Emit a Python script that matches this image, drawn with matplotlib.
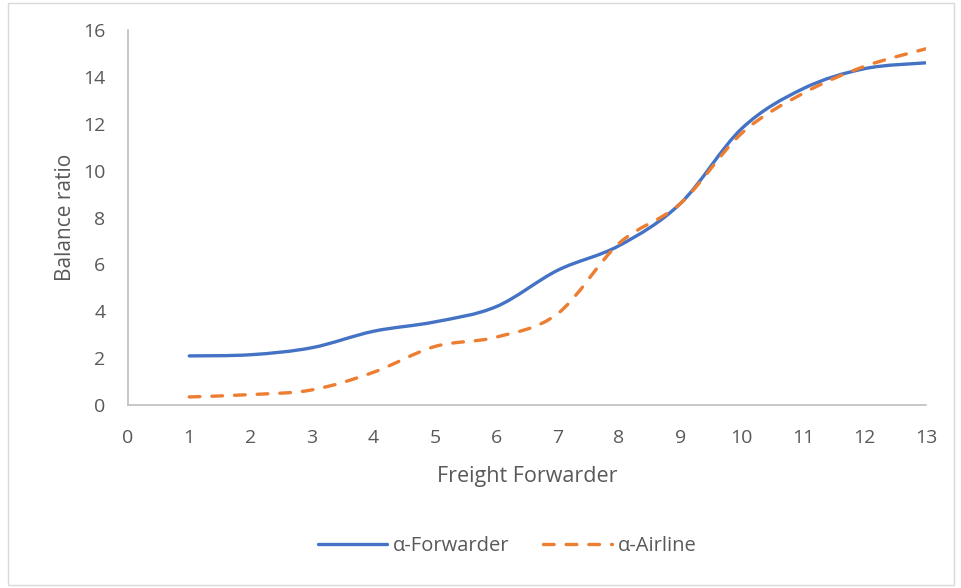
import matplotlib.pyplot as plt
import numpy as np
from matplotlib.path import Path
from matplotlib.patches import PathPatch, Rectangle
from matplotlib.lines import Line2D

# data
forwarder_no = [1, 2, 3, 4, 5, 6, 7, 8, 9, 10, 11, 12, 13]
alpha_forwarder = [2.1, 2.15, 2.45, 3.15, 3.55, 4.2, 5.75, 6.8, 8.6, 11.8, 13.5, 14.35, 14.6]
alpha_airline = [0.35, 0.45, 0.65, 1.4, 2.5, 2.9, 3.9, 6.9, 8.6, 11.6, 13.3, 14.45, 15.2]

plt.rcParams['font.family'] = ['Open Sans', 'DejaVu Sans']
text_color = '#595959'
dash = (0, (3.2, 3.6))


def smooth_path(x, y):
    # bezier segments through each point, like a spreadsheet "smoothed line"
    x = np.asarray(x, float)
    y = np.asarray(y, float)
    n = len(x)
    verts = [(x[0], y[0])]
    codes = [Path.MOVETO]
    for i in range(n - 1):
        i0 = max(i - 1, 0)
        i3 = min(i + 2, n - 1)
        c1 = (x[i] + (x[i + 1] - x[i0]) / 6, y[i] + (y[i + 1] - y[i0]) / 6)
        c2 = (x[i + 1] - (x[i3] - x[i]) / 6, y[i + 1] - (y[i3] - y[i]) / 6)
        verts += [c1, c2, (x[i + 1], y[i + 1])]
        codes += [Path.CURVE4] * 3
    return Path(verts, codes)


fig = plt.figure(figsize=(9.61, 5.88), dpi=100)
ax = fig.add_axes([0.133, 0.311, 0.8306, 0.638])

blue = PathPatch(smooth_path(forwarder_no, alpha_forwarder), fill=False,
                 edgecolor='#4472C4', lw=2.4, capstyle='round')
orange = PathPatch(smooth_path(forwarder_no, alpha_airline), fill=False,
                   edgecolor='#ED7D31', lw=2.4, capstyle='round', linestyle=dash)
ax.add_patch(blue)
ax.add_patch(orange)

ax.set_xlim(0, 13)
ax.set_ylim(0, 16)
ax.set_xticks(range(0, 14))
ax.set_yticks(range(0, 17, 2))
ax.tick_params(length=0, labelsize=14, colors=text_color)
ax.tick_params(axis='x', pad=17)
ax.tick_params(axis='y', pad=16)
for s in ['top', 'right']:
    ax.spines[s].set_visible(False)
for s in ['left', 'bottom']:
    ax.spines[s].set_color('#BFBFBF')
    ax.spines[s].set_linewidth(1.2)

ax.set_xlabel('Freight Forwarder', fontsize=15.5, color=text_color, labelpad=14)
ax.set_ylabel('Balance ratio', fontsize=15, color=text_color, labelpad=5)

handles = [Line2D([], [], color='#4472C4', lw=2.4, solid_capstyle='round'),
           Line2D([], [], color='#ED7D31', lw=2.4, linestyle=dash,
                  dash_capstyle='round')]
fig.legend(handles, ['α-Forwarder', 'α-Airline'], loc='center',
           bbox_to_anchor=(0.528, 0.071), ncol=2, frameon=False,
           fontsize=14.5, labelcolor=text_color, handlelength=3.4,
           handletextpad=0.3, columnspacing=1.7)

fig.add_artist(Rectangle((0.008, 0.005), 0.985, 0.99, transform=fig.transFigure,
                         fill=False, edgecolor='#D9D9D9', lw=1))

fig.savefig('out.png', dpi=100)
